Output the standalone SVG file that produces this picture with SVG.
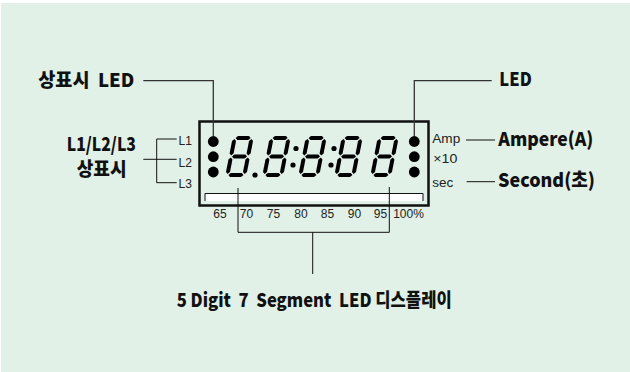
<svg xmlns="http://www.w3.org/2000/svg" xmlns:xlink="http://www.w3.org/1999/xlink" width="630" height="372" viewBox="0 0 630 372">
<style>
.bg{fill:#e1f1e7}
.big{font-family:"Noto Sans CJK KR","Liberation Sans",sans-serif;font-weight:900;font-size:19px;fill:#111;white-space:pre}
.sm{font-family:"Liberation Sans",Arial,sans-serif;font-size:12px;fill:#222}
.ln{fill:none;stroke:#111;stroke-width:1}
.ln2{fill:none;stroke:#333;stroke-width:1.3}
.seg{fill:#000}
.led{fill:#000}
</style>
<defs>
<g id="d8" class="seg">
<polygon points="3,2 5,0 16,0 18,2 16,4 5,4"/>
<polygon points="3,20.5 5,18.5 16,18.5 18,20.5 16,22.5 5,22.5"/>
<polygon points="3,39 5,37 16,37 18,39 16,41 5,41"/>
<polygon points="2,3 4,5 4,17.5 2,19.5 0,17.5 0,5"/>
<polygon points="19,3 21,5 21,17.5 19,19.5 17,17.5 17,5"/>
<polygon points="2,21.5 4,23.5 4,36 2,38 0,36 0,23.5"/>
<polygon points="19,21.5 21,23.5 21,36 19,38 17,36 17,23.5"/>
</g>
</defs>
<rect class="bg" x="1" y="3" width="629" height="369"/>

<g id="display">
<rect x="199.5" y="121.5" width="229" height="84" fill="none" stroke="#111" stroke-width="2.5"/>
<rect x="205" y="193.5" width="218" height="7.5" fill="#fff"/>
<path d="M205,201 V193.5 H423 V201" fill="none" stroke="#111" stroke-width="1"/>
<use xlink:href="#d8" transform="translate(233,136) skewX(-11)"/>
<use xlink:href="#d8" transform="translate(270,136) skewX(-11)"/>
<use xlink:href="#d8" transform="translate(306,136) skewX(-11)"/>
<use xlink:href="#d8" transform="translate(342,136) skewX(-11)"/>
<use xlink:href="#d8" transform="translate(378,136) skewX(-11)"/>
<circle cx="255" cy="175" r="2.6"/>
<circle cx="296" cy="148.5" r="2.6"/>
<circle cx="293" cy="165" r="2.6"/>
<circle cx="334" cy="148.5" r="2.6"/>
<circle cx="331" cy="165" r="2.6"/>
</g>

<g id="left-leds">
<circle class="led" cx="213.3" cy="141.5" r="5.4"/>
<circle class="led" cx="213.3" cy="156.7" r="5.4"/>
<circle class="led" cx="213.3" cy="172" r="5.4"/>
</g>
<g id="right-leds">
<circle class="led" cx="414.3" cy="141.5" r="5.4"/>
<circle class="led" cx="414.3" cy="156.7" r="5.4"/>
<circle class="led" cx="414.3" cy="172" r="5.4"/>
</g>

<g id="scale">
<text class="sm" x="220" y="218" text-anchor="middle">65</text>
<text class="sm" x="246.5" y="218" text-anchor="middle">70</text>
<text class="sm" x="273.5" y="218" text-anchor="middle">75</text>
<text class="sm" x="301" y="218" text-anchor="middle">80</text>
<text class="sm" x="327.5" y="218" text-anchor="middle">85</text>
<text class="sm" x="354.5" y="218" text-anchor="middle">90</text>
<text class="sm" x="380.5" y="218" text-anchor="middle">95</text>
<text class="sm" x="408.5" y="218" text-anchor="middle">100%</text>
</g>

<g id="phase-labels">
<text class="sm" x="178.5" y="145">L1</text>
<text class="sm" x="178.5" y="166.7">L2</text>
<text class="sm" x="178.5" y="188.3">L3</text>
</g>

<g id="unit-labels">
<text class="sm" x="432.3" y="143.3" textLength="28" lengthAdjust="spacingAndGlyphs">Amp</text>
<text class="sm" x="433.3" y="163.3" textLength="24" lengthAdjust="spacingAndGlyphs">×10</text>
<text class="sm" x="432.3" y="186.7" textLength="21" lengthAdjust="spacingAndGlyphs">sec</text>
</g>

<g id="connectors">
<path class="ln2" d="M143.3,80.7 H213.3 V136"/>
<path class="ln2" d="M491.7,80.7 H414.3 V136"/>
<path class="ln" d="M143.3,159.3 H176.7 M156.7,139 V182.7 M156.7,139 H176.7 M156.7,182.7 H176.7"/>
<path class="ln" d="M466,140 H495"/>
<path class="ln" d="M466.7,181.7 H495"/>
<path class="ln" d="M238,188 V232.3 H389.3 V187 M312.7,232.3 V274"/>
</g>

<g id="label-status-led">
<text class="big" x="38.3" y="86.5" textLength="96" lengthAdjust="spacingAndGlyphs" font-size="18">상표시  LED</text>
</g>
<g id="label-led">
<text class="big" x="499.3" y="86" textLength="32.4" lengthAdjust="spacingAndGlyphs">LED</text>
</g>
<g id="label-phase">
<text class="big" font-size="15.5"><tspan x="66.7" y="151.3" textLength="69.3" lengthAdjust="spacingAndGlyphs">L1/L2/L3</tspan><tspan x="76.7" y="176" textLength="50" lengthAdjust="spacingAndGlyphs">상표시</tspan></text>
</g>
<g id="label-ampere">
<text class="big" x="498.3" y="145.5" textLength="95" lengthAdjust="spacingAndGlyphs">Ampere(A)</text>
</g>
<g id="label-second">
<text class="big" x="498" y="187" textLength="97" lengthAdjust="spacingAndGlyphs">Second(초)</text>
</g>
<g id="label-display">
<text class="big" x="176.7" y="307.3" textLength="275" lengthAdjust="spacingAndGlyphs">5 Digit  7  Segment  LED 디스플레이</text>
</g>
</svg>
